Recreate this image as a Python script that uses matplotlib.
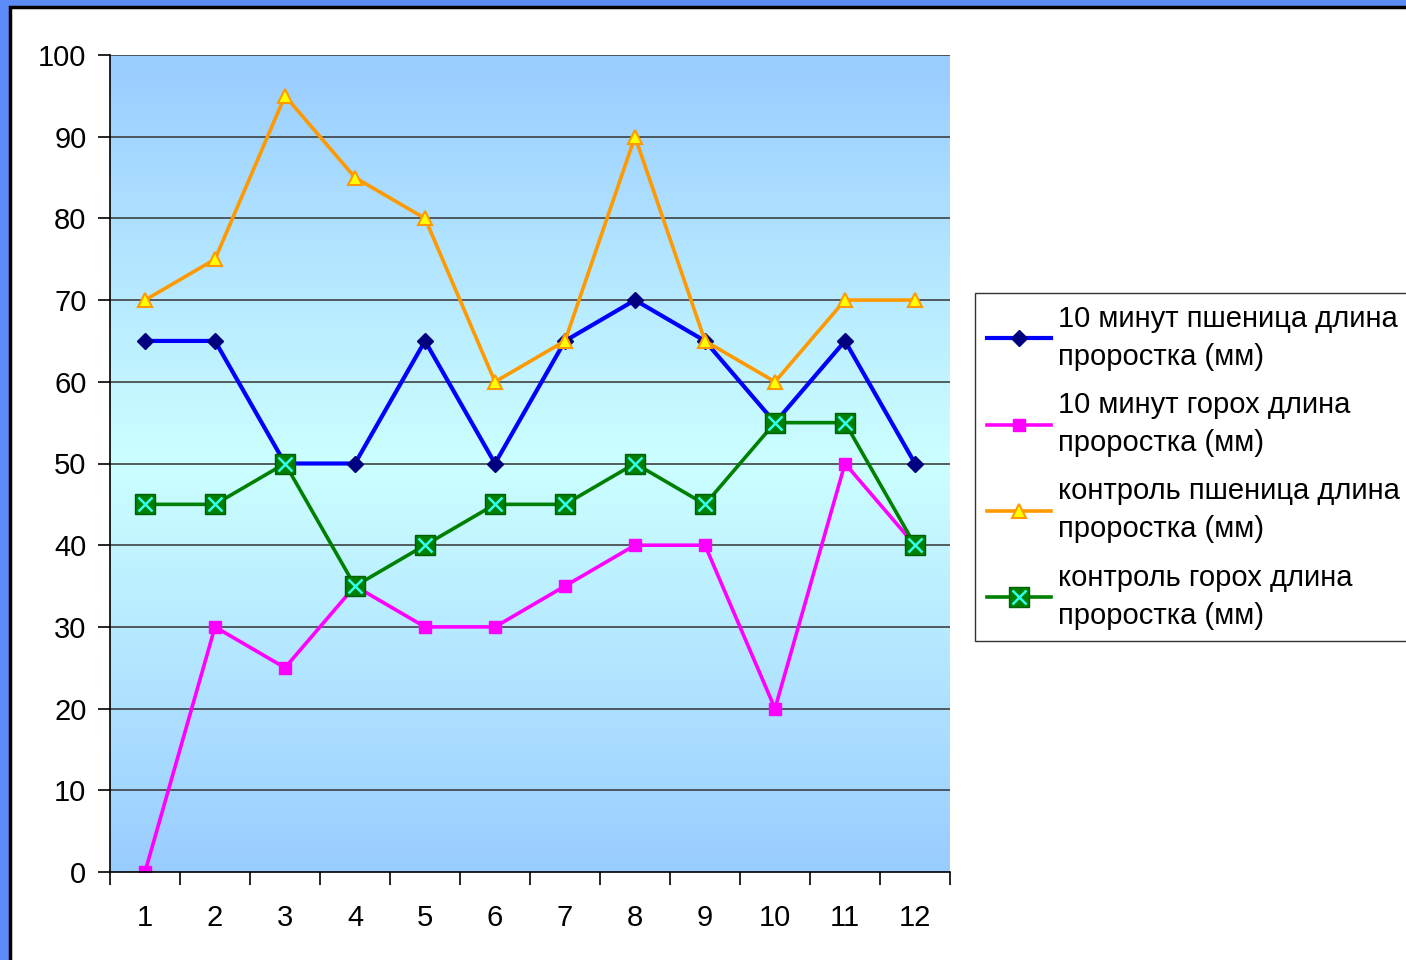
import numpy as np
import matplotlib.pyplot as plt
from matplotlib.patches import Rectangle
from matplotlib.colors import LinearSegmentedColormap

plt.rcParams['font.family'] = ['Liberation Sans', 'DejaVu Sans']

# measurements per sample
samples = list(range(1, 13))
wheat_10min = [65, 65, 50, 50, 65, 50, 65, 70, 65, 55, 65, 50]
pea_10min = [0, 30, 25, 35, 30, 30, 35, 40, 40, 20, 50, 40]
wheat_ctrl = [70, 75, 95, 85, 80, 60, 65, 90, 65, 60, 70, 70]
pea_ctrl = [45, 45, 50, 35, 40, 45, 45, 50, 45, 55, 55, 40]

labels = ['10 минут пшеница длина\nпроростка (мм)',
          '10 минут горох длина\nпроростка (мм)',
          'контроль пшеница длина\nпроростка (мм)',
          'контроль горох длина\nпроростка (мм)']

fig = plt.figure(figsize=(14.06, 9.6), dpi=100)
fig.patch.set_facecolor('#5b8cf7')
# white slide panel with a black frame
fig.patches.append(Rectangle((10 / 1406, -0.1), 1.1, 1 - 7 / 960 + 0.1,
                             transform=fig.transFigure, facecolor='white',
                             edgecolor='black', lw=2.5, zorder=-5))

ax = fig.add_axes([110 / 1406, 88 / 960, 840 / 1406, 817 / 960])
ax.set_facecolor('none')

# vertical gradient background of the plot area
cmap = LinearSegmentedColormap.from_list('bg', ['#99ccff', '#ccffff', '#99ccff'])
grad = np.linspace(0, 1, 256).reshape(-1, 1)
ax.imshow(grad, cmap=cmap, extent=[0.5, 12.5, 0, 100], aspect='auto',
          zorder=0, interpolation='bicubic')

for y in range(10, 101, 10):
    ax.axhline(y, color='#333333', lw=1.1, zorder=1)

l1, = ax.plot(samples, wheat_10min, color='#0000ff', lw=3, marker='D',
              ms=8, mfc='#000080', mec='#000080', zorder=3, label=labels[0])
l2, = ax.plot(samples, pea_10min, color='#ff00ff', lw=2.6, marker='s',
              ms=8, mfc='#ff00ff', mec='#ff00ff', zorder=3, label=labels[1])
l3, = ax.plot(samples, wheat_ctrl, color='#ff9900', lw=2.6, marker='^',
              ms=10, mfc='#ffff00', mec='#ff9900', mew=1.5, zorder=3,
              label=labels[2])
l4, = ax.plot(samples, pea_ctrl, color='#008000', lw=2.6, marker='s',
              ms=14, mfc='#008000', mec='#006000', zorder=3, label=labels[3])
x4, = ax.plot(samples, pea_ctrl, ls='none', marker='x', ms=10,
              mec='#33ffee', mew=1.8, zorder=4)

ax.set_xlim(0.5, 12.5)
ax.set_ylim(0, 100)
ax.set_yticks(range(0, 101, 10))
ax.set_xticks(samples)
ax.set_xticks(np.arange(0.5, 12.6, 1), minor=True)
ax.tick_params(axis='x', which='major', length=0, pad=23, labelsize=21)
ax.tick_params(axis='x', which='minor', length=9, width=1.2, direction='out')
ax.tick_params(axis='y', length=9, width=1.2, direction='out', pad=8,
               labelsize=21)
ax.spines['top'].set_visible(False)
ax.spines['right'].set_visible(False)
for s in ('left', 'bottom'):
    ax.spines[s].set_linewidth(1.2)
    ax.spines[s].set_zorder(5)

leg = fig.legend([l1, l2, l3, (l4, x4)], labels, loc='upper left',
                 bbox_to_anchor=(975 / 1406, 1 - 293 / 960), fontsize=21,
                 frameon=True, fancybox=False, edgecolor='black',
                 handlelength=2.2, handletextpad=0.25, labelspacing=0.7,
                 borderpad=0.4, borderaxespad=0)
leg.get_frame().set_linewidth(1)
for t in leg.get_texts():
    t.set_linespacing(1.45)

fig.savefig('out.png', dpi=100)
